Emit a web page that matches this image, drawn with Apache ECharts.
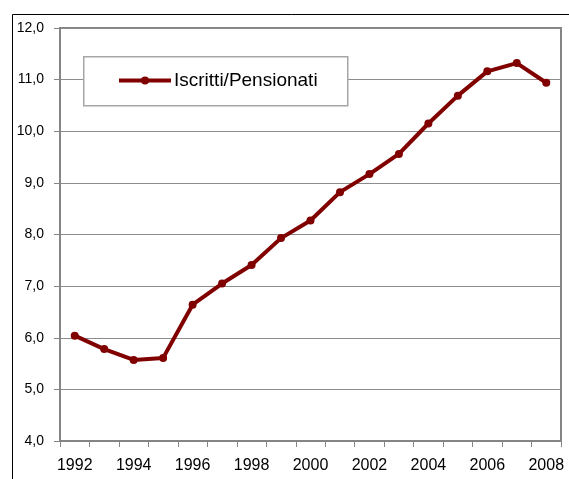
<!DOCTYPE html>
<html>
<head>
<meta charset="utf-8">
<script src="https://cdn.jsdelivr.net/npm/echarts@6/dist/echarts.min.js"></script>
<style>
html,body{margin:0;padding:0;background:#fff;}
#chart{width:569px;height:479px;}
</style>
</head>
<body>
<div id="chart"></div>
<script>
var years = ['1992','1993','1994','1995','1996','1997','1998','1999','2000','2001','2002','2003','2004','2005','2006','2007','2008'];
var ratio = [6.04, 5.78, 5.57, 5.61, 6.64, 7.05, 7.41, 7.93, 8.27, 8.82, 9.17, 9.56, 10.15, 10.69, 11.16, 11.32, 10.94];
var seriesName = 'Iscritti/Pensionati';
var yMin = 4, yMax = 12, yStep = 1;

var chart = echarts.init(document.getElementById('chart'), null, {renderer: 'canvas'});
var font = '"Liberation Sans", Arial, sans-serif';
chart.setOption({
  animation: false,
  backgroundColor: '#fff',
  textStyle: {fontFamily: font},
  graphic: [
    {type: 'rect', left: 10, top: 12, z: 0, silent: true,
     shape: {x: 0, y: 0, width: 600, height: 500},
     style: {fill: 'none', stroke: '#000', lineWidth: 1}},
    {type: 'rect', left: 83, top: 56, z: 3, silent: true,
     shape: {x: 0, y: 0, width: 264, height: 49},
     style: {fill: '#fff', stroke: '#a6a6a6', lineWidth: 1.5}}
  ],
  grid: {left: 60, top: 28, right: 8, bottom: 38, show: true, borderColor: '#858585', borderWidth: 2, backgroundColor: 'transparent'},
  legend: {
    left: 117, top: 71, padding: 0, itemGap: 0, z: 5,
    itemWidth: 52, itemHeight: 10,
    data: [seriesName],
    lineStyle: {width: 4, color: '#800000'},
    itemStyle: {color: '#800000'},
    textStyle: {fontSize: 19, color: '#000', fontFamily: font, padding: [0, 0, 0, -2], lineHeight: 19}
  },
  xAxis: {
    type: 'category', data: years, boundaryGap: true,
    axisLine: {lineStyle: {color: '#858585', width: 2}},
    axisTick: {show: true, interval: 0, length: 6, lineStyle: {color: '#858585', width: 1}},
    axisLabel: {interval: 1, margin: 17, fontSize: 16, color: '#000', fontFamily: font},
    splitLine: {show: false}
  },
  yAxis: {
    type: 'value', min: yMin, max: yMax, interval: yStep,
    axisLine: {show: true, lineStyle: {color: '#858585', width: 2}},
    axisTick: {show: true, length: 6, lineStyle: {color: '#858585', width: 1}},
    axisLabel: {margin: 16, fontSize: 14, color: '#000', fontFamily: font,
      formatter: function (v) { return v.toFixed(1).replace('.', ','); }},
    splitLine: {show: true, lineStyle: {color: '#8c8c8c', width: 1}}
  },
  series: [{
    name: seriesName, type: 'line', data: ratio,
    symbol: 'circle', symbolSize: 8, showSymbol: true,
    lineStyle: {color: '#800000', width: 4},
    itemStyle: {color: '#800000'},
    z: 2
  }]
});
</script>
</body>
</html>
